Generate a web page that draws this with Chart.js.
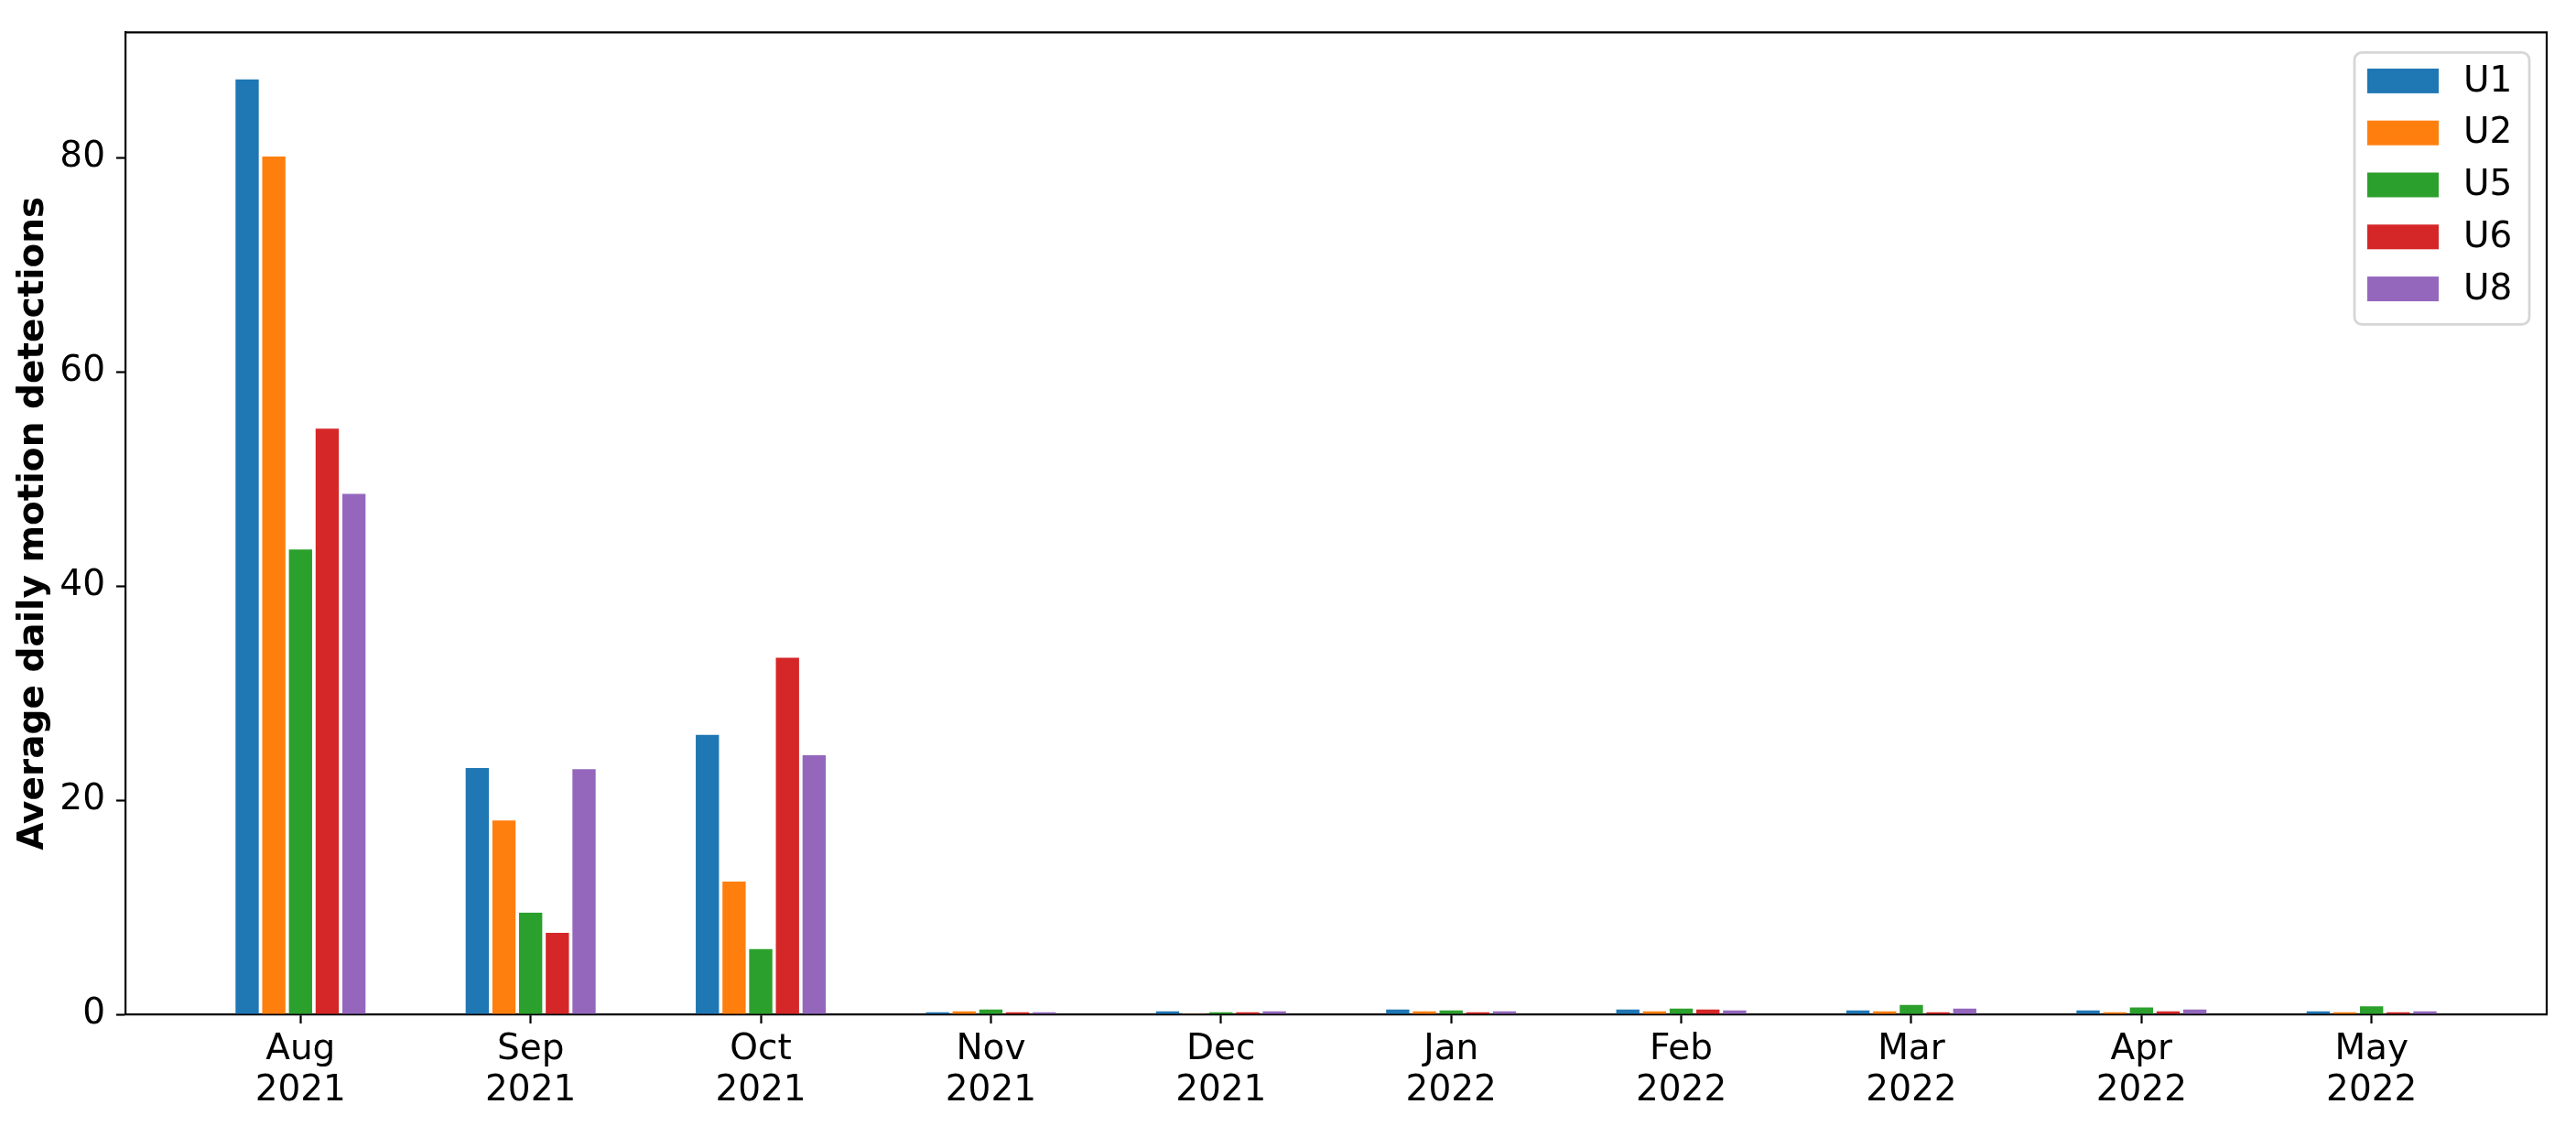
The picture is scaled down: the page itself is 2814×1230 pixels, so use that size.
<!DOCTYPE html>
<html>
<head>
<meta charset="utf-8">
<script src="https://cdn.jsdelivr.net/npm/chart.js@4"></script>
<style>
    body { margin: 0; background: #ffffff; }
    #chart { display: block; }
</style>
</head>
<body>
<canvas id="chart" width="2814" height="1230"></canvas>
<script>
// Data
var months = ["Aug", "Sep", "Oct", "Nov", "Dec", "Jan", "Feb", "Mar", "Apr", "May"];
var years = ["2021", "2021", "2021", "2021", "2021", "2022", "2022", "2022", "2022", "2022"];

var u1 = [87.3, 23.0, 26.1, 0.2, 0.28, 0.45, 0.45, 0.37, 0.37, 0.28];
var u2 = [80.1, 18.1, 12.4, 0.28, 0.02, 0.28, 0.28, 0.28, 0.2, 0.2];
var u5 = [43.4, 9.5, 6.1, 0.45, 0.2, 0.37, 0.54, 0.88, 0.65, 0.74];
var u6 = [54.7, 7.6, 33.3, 0.2, 0.2, 0.2, 0.45, 0.2, 0.28, 0.2];
var u8 = [48.6, 22.9, 24.2, 0.2, 0.28, 0.28, 0.37, 0.54, 0.45, 0.28];

var seriesNames = ["U1", "U2", "U5", "U6", "U8"];
var seriesValues = [u1, u2, u5, u6, u8];
var seriesColors = ["#1f77b4", "#ff7f0e", "#2ca02c", "#d62728", "#9467bd"];

var yTicks = [0, 20, 40, 60, 80];

var FONT = "'DejaVu Sans', sans-serif";

function make_datasets(){
    let datasets = [];
    for (let i = 0; i < seriesNames.length; i++){
        let points = [];
        for (let j = 0; j < months.length; j++){
            points.push({x: j, y: seriesValues[i][j]});
        }
        datasets.push({
            label: seriesNames[i],
            data: points,
            backgroundColor: seriesColors[i],
            borderWidth: 0,
            categoryPercentage: 0.58,
            barPercentage: 0.87
        });
    }
    return datasets;
}

// top and right edges of the axes box
var frame = {
    id: "frame",
    afterDraw(chart){
        const ctx = chart.ctx;
        const a = chart.chartArea;
        ctx.save();
        ctx.strokeStyle = "#000";
        ctx.lineWidth = 2.2;
        ctx.beginPath();
        ctx.moveTo(a.left, a.top);
        ctx.lineTo(a.right, a.top);
        ctx.lineTo(a.right, a.bottom);
        ctx.stroke();
        ctx.restore();
    }
};

// legend in the upper right corner, like matplotlib's
var legendBox = {
    id: "legendBox",
    afterDraw(chart){
        const ctx = chart.ctx;
        const a = chart.chartArea;
        const boxRight = a.right - 19;
        const boxLeft = boxRight - 191;
        const boxTop = a.top + 22;
        const boxBottom = boxTop + 297;
        const r = 8;

        ctx.save();
        ctx.fillStyle = "rgba(255,255,255,0.8)";
        ctx.strokeStyle = "rgba(204,204,204,0.8)";
        ctx.lineWidth = 2.8;
        ctx.beginPath();
        ctx.roundRect(boxLeft, boxTop, boxRight - boxLeft, boxBottom - boxTop, r);
        ctx.fill();
        ctx.stroke();

        ctx.font = "39px " + FONT;
        ctx.textBaseline = "middle";
        ctx.textAlign = "left";
        chart.data.datasets.forEach(function(ds, i){
            let cy = a.top + 53 + i * 56.8;
            ctx.fillStyle = ds.backgroundColor;
            ctx.fillRect(boxLeft + 14, cy - 13.5, 78, 27);
            ctx.fillStyle = "#000";
            ctx.fillText(ds.label, boxLeft + 119, cy + 1);
        });
        ctx.restore();
    }
};

var config = {
    type: "bar",
    data: {
        datasets: make_datasets()
    },
    options: {
        responsive: false,
        animation: false,
        devicePixelRatio: 1,
        layout: {
            padding: {top: 33, right: 32, left: 0, bottom: 0}
        },
        plugins: {
            legend: {display: false},
            tooltip: {enabled: false}
        },
        scales: {
            x: {
                type: "linear",
                min: -0.761,
                max: 9.761,
                offset: false,
                afterBuildTicks: function(scale){
                    scale.ticks = months.map(function(m, i){ return {value: i}; });
                },
                afterFit: function(scale){
                    scale.height = 122;
                },
                grid: {
                    offset: false,
                    drawOnChartArea: false,
                    drawTicks: true,
                    tickLength: 10,
                    tickWidth: 2.2,
                    tickColor: "#000"
                },
                border: {display: true, color: "#000", width: 2.2},
                ticks: {
                    autoSkip: false,
                    maxRotation: 0,
                    padding: 6,
                    color: "#000",
                    font: {family: FONT, size: 39, lineHeight: 1.155},
                    callback: function(value){
                        return [months[value], years[value]];
                    }
                }
            },
            y: {
                min: 0,
                max: 91.7,
                afterBuildTicks: function(scale){
                    scale.ticks = yTicks.map(function(v){ return {value: v}; });
                },
                afterFit: function(scale){
                    scale.width = 137;
                },
                grid: {
                    drawOnChartArea: false,
                    drawTicks: true,
                    tickLength: 10,
                    tickWidth: 2.2,
                    tickColor: "#000"
                },
                border: {display: true, color: "#000", width: 2.2},
                ticks: {
                    padding: 12,
                    color: "#000",
                    font: {family: FONT, size: 39}
                },
                title: {
                    display: true,
                    text: "Average daily motion detections",
                    color: "#000",
                    padding: {top: 13, bottom: 0},
                    font: {family: FONT, size: 39, weight: "bold", lineHeight: 1.2}
                }
            }
        }
    },
    plugins: [frame, legendBox]
};

var chart = new Chart(document.getElementById("chart"), config);
</script>
</body>
</html>
